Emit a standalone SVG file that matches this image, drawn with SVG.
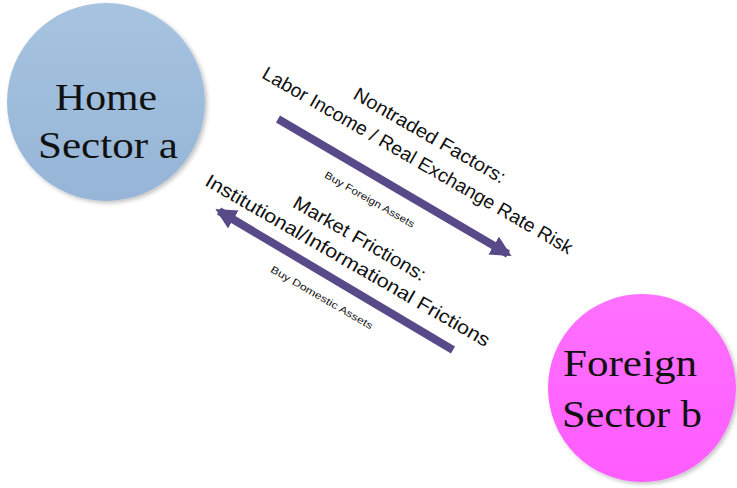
<svg xmlns="http://www.w3.org/2000/svg" width="737" height="488" viewBox="0 0 737 488">
<defs>
<linearGradient id="gBlue" x1="0" y1="0" x2="0" y2="1"><stop offset="0" stop-color="#a6c4e0"/><stop offset="1" stop-color="#96b5d7"/></linearGradient>
<linearGradient id="gPink" x1="0" y1="0" x2="0" y2="1"><stop offset="0" stop-color="#ff70ff"/><stop offset="1" stop-color="#ff5cff"/></linearGradient>
<filter id="sh" x="-10%" y="-10%" width="130%" height="130%"><feGaussianBlur in="SourceAlpha" stdDeviation="2"/><feOffset dx="2" dy="2"/><feComponentTransfer><feFuncA type="linear" slope="0.25"/></feComponentTransfer><feMerge><feMergeNode/><feMergeNode in="SourceGraphic"/></feMerge></filter>
<marker id="ah" viewBox="0 0 10 10" refX="8" refY="5" markerWidth="2.6" markerHeight="2.6" orient="auto" markerUnits="strokeWidth"><path d="M0,0 L10,5 L0,10 z" fill="#584a88"/></marker>
</defs>
<style>
.node{font-family:"Liberation Serif",serif;font-size:38px;fill:#111;text-anchor:middle}
.lbl{font-family:"Liberation Sans",sans-serif;fill:#111;text-anchor:middle}
.big{font-size:19px}
.sm{font-size:10px}
.conn{stroke:#584a88;stroke-width:8;fill:none}
</style>
<rect width="737" height="488" fill="#fff"/>
<g id="home">
<circle cx="106" cy="102" r="99" fill="url(#gBlue)" filter="url(#sh)"/>
<text class="node" x="106" y="110" textLength="102" lengthAdjust="spacingAndGlyphs">Home</text>
<text class="node" x="108" y="158" textLength="140" lengthAdjust="spacingAndGlyphs">Sector a</text>
</g>
<g id="foreign">
<circle cx="642" cy="388" r="94" fill="url(#gPink)" filter="url(#sh)"/>
<text class="node" x="630" y="376" textLength="134" lengthAdjust="spacingAndGlyphs">Foreign</text>
<text class="node" x="632" y="427" textLength="140" lengthAdjust="spacingAndGlyphs">Sector b</text>
</g>
<g id="connectors">
<line class="conn" x1="278" y1="119" x2="508" y2="254" marker-end="url(#ah)"/>
<line class="conn" x1="453" y1="350" x2="219" y2="211" marker-end="url(#ah)"/>
</g>
<g id="labels">
<text class="lbl big" transform="translate(430,135) rotate(30)" y="7" textLength="172" lengthAdjust="spacingAndGlyphs">Nontraded  Factors:</text>
<text class="lbl big" transform="translate(418,160) rotate(30)" y="7" textLength="355" lengthAdjust="spacingAndGlyphs">Labor Income / Real Exchange Rate Risk</text>
<text class="lbl sm" transform="translate(370,199) rotate(30)" y="4" textLength="102" lengthAdjust="spacingAndGlyphs">Buy Foreign Assets</text>
<text class="lbl big" transform="translate(360,238) rotate(30)" y="7" textLength="150" lengthAdjust="spacingAndGlyphs">Market Frictions:</text>
<text class="lbl big" transform="translate(348,260) rotate(30)" y="7" textLength="325" lengthAdjust="spacingAndGlyphs">Institutional/Informational Frictions</text>
<text class="lbl sm" transform="translate(322,297) rotate(30)" y="4" textLength="116" lengthAdjust="spacingAndGlyphs">Buy  Domestic Assets</text>
</g>
</svg>
